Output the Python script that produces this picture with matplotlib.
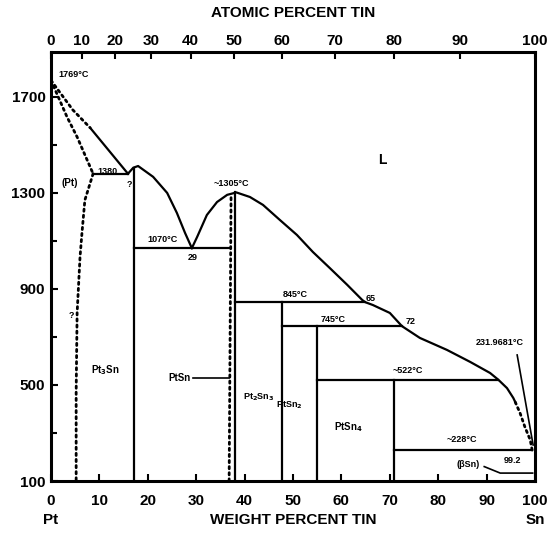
import numpy as np
import matplotlib.pyplot as plt

plt.rcParams['font.family'] = ['Liberation Sans', 'DejaVu Sans']
plt.rcParams['font.weight'] = 'bold'

M_PT = 195.08
M_SN = 118.71

# liquidus / solidus (wt% Sn, deg C)
pt_liq_dot_x = [0, 4.5, 8.1]
pt_liq_dot_t = [1769, 1646, 1571]
pt_liq_x = [8.1, 15.9]
pt_liq_t = [1571, 1380]
pt_sol_x = [0, 3.3, 5.4, 8.7]
pt_sol_t = [1769, 1617, 1533, 1380]
pt_solvus_x = [8.7, 7.0, 6.4, 6.0, 5.4, 5.2, 5.2]
pt_solvus_t = [1380, 1270, 1133, 1033, 800, 470, 100]

pt3sn_liq_x = [15.9, 17.0, 18.0, 21.1, 24.0, 26.0, 27.7, 29.1]
pt3sn_liq_t = [1380, 1405, 1412, 1367, 1300, 1217, 1133, 1070]

liq_x = [29.1, 30.2, 32.2, 34.3, 36.4, 38.3, 41.1, 43.8, 47.3, 50.8, 54.1,
         57.6, 61.2, 64.3, 64.9, 66.5, 70.0, 72.5, 76.2, 81.8, 86.6, 90.7,
         92.4, 94.2, 95.5, 95.9]
liq_t = [1070, 1117, 1208, 1262, 1292, 1302, 1283, 1250, 1187, 1125, 1054,
         987, 917, 854, 845, 833, 800, 745, 696, 646, 596, 550,
         522, 487, 446, 429]
sn_liq_dot_x = [95.9, 96.9, 97.9, 99.0, 99.4]
sn_liq_dot_t = [429, 383, 325, 271, 228]

# invariant lines: (t, x_from, x_to)
isotherms = [
    (1380, 8.7, 15.9),
    (1070, 17.2, 36.8),
    (845, 38.0, 64.9),
    (745, 47.7, 72.5),
    (522, 54.9, 92.4),
    (228, 70.9, 99.4),
]
# compound lines: (x, t_low, t_high)
compounds = [
    (17.2, 100, 1405),
    (38.0, 100, 1302),
    (47.7, 100, 845),
    (54.9, 100, 745),
    (70.9, 100, 522),
]
ptsn_dot_x = [36.8, 37.2]
ptsn_dot_t = [100, 1290]

phase_labels = [
    ('L', 68.4, 1437, 10),
    ('(Pt)', 3.9, 1342, 7),
    ('Pt$_3$Sn', 11.2, 562, 7),
    ('Pt$_2$Sn$_3$', 42.8, 450, 6.5),
    ('PtSn$_2$', 49.2, 417, 6.5),
    ('PtSn$_4$', 61.4, 325, 7),
    ('(βSn)', 86.2, 167, 6.5),
]
temp_labels = [
    ('1769°C', 4.6, 1795),
    ('1380', 11.6, 1390),
    ('?', 16.3, 1335),
    ('1070°C', 23.1, 1104),
    ('29', 29.3, 1029),
    ('~1305°C', 37.2, 1340),
    ('845°C', 50.4, 875),
    ('65', 66.0, 862),
    ('745°C', 58.3, 771),
    ('72', 74.3, 765),
    ('~522°C', 73.8, 562),
    ('231.9681°C', 92.6, 675),
    ('~228°C', 84.9, 271),
    ('99.2', 95.4, 187),
    ('?', 4.2, 790),
]

wt_ticks = [0, 10, 20, 30, 40, 50, 60, 70, 80, 90, 100]
at_ticks = [0, 10, 20, 30, 40, 50, 60, 70, 80, 90, 100]


def wt_to_at(w):
    w = np.asarray(w, dtype=float)
    a = w / M_SN
    b = (100 - w) / M_PT
    return 100 * a / np.where(a + b == 0, 1, a + b)


def at_to_wt(a):
    a = np.asarray(a, dtype=float)
    p = a * M_SN
    q = (100 - a) * M_PT
    return 100 * p / np.where(p + q == 0, 1, p + q)


fig = plt.figure(figsize=(5.59, 5.36), dpi=100)
ax = fig.add_axes([0.0912, 0.1026, 0.866, 0.8004])
lw = 1.6
dot = dict(color='black', lw=2.0, ls=(0, (0.8, 1.4)), dash_capstyle='round')

ax.plot(pt_liq_dot_x, pt_liq_dot_t, **dot)
ax.plot(pt_liq_x, pt_liq_t, color='black', lw=lw)
ax.plot(pt_sol_x, pt_sol_t, **dot)
ax.plot(pt_solvus_x, pt_solvus_t, **dot)
ax.plot(pt3sn_liq_x, pt3sn_liq_t, color='black', lw=lw)
ax.plot(liq_x, liq_t, color='black', lw=lw)
ax.plot(sn_liq_dot_x, sn_liq_dot_t, **dot)
ax.plot(ptsn_dot_x, ptsn_dot_t, **dot)

for t, x0, x1 in isotherms:
    ax.plot([x0, x1], [t, t], color='black', lw=lw)
for x, t0, t1 in compounds:
    ax.plot([x, x], [t0, t1], color='black', lw=lw)

# leader lines
ax.plot([96.3, 99.6], [625, 250], color='black', lw=1.2)
ax.plot([29.3, 36.8], [529, 529], color='black', lw=1.2)
ax.plot([89.5, 92.8, 99.5], [160, 133, 133], color='black', lw=1.2)

for s, x, t, fs in phase_labels:
    ax.text(x, t, s, fontsize=fs, fontweight='bold', ha='center', va='center')
ax.text(28.9, 529, 'PtSn', fontsize=7, fontweight='bold', ha='right', va='center')
for s, x, t in temp_labels:
    ax.text(x, t, s, fontsize=6.5, fontweight='bold', ha='center', va='center')

ax.set_xlim(0, 100)
ax.set_ylim(100, 1887)
ax.set_xticks(wt_ticks)
ax.set_yticks([100, 500, 900, 1300, 1700])
ax.set_yticks([300, 700, 1100, 1500], minor=True)
ax.tick_params(axis='both', which='both', direction='in', width=1.5,
               labelsize=11)
ax.tick_params(axis='x', pad=9)
ax.tick_params(axis='y', pad=4)
ax.tick_params(axis='both', which='major', length=5)
ax.tick_params(axis='y', which='minor', length=4)
ax.tick_params(axis='x', top=False)
for lab in ax.get_xticklabels() + ax.get_yticklabels():
    lab.set_fontweight('bold')
for sp in ax.spines.values():
    sp.set_linewidth(2.2)

sec = ax.secondary_xaxis('top', functions=(wt_to_at, at_to_wt))
sec.set_xticks(at_ticks)
sec.tick_params(direction='in', length=5, width=1.5, labelsize=11, pad=3)
for lab in sec.get_xticklabels():
    lab.set_fontweight('bold')
sec.set_xlabel('ATOMIC PERCENT TIN', fontsize=11, fontweight='bold', labelpad=12)

ax.set_xlabel('WEIGHT PERCENT TIN', fontsize=11, fontweight='bold', labelpad=4)
ax.text(0, -0.09, 'Pt', transform=ax.get_xaxis_transform(), fontsize=11,
        fontweight='bold', ha='center', va='center')
ax.text(100, -0.09, 'Sn', transform=ax.get_xaxis_transform(), fontsize=11,
        fontweight='bold', ha='center', va='center')

fig.savefig('out.png', dpi=100)
